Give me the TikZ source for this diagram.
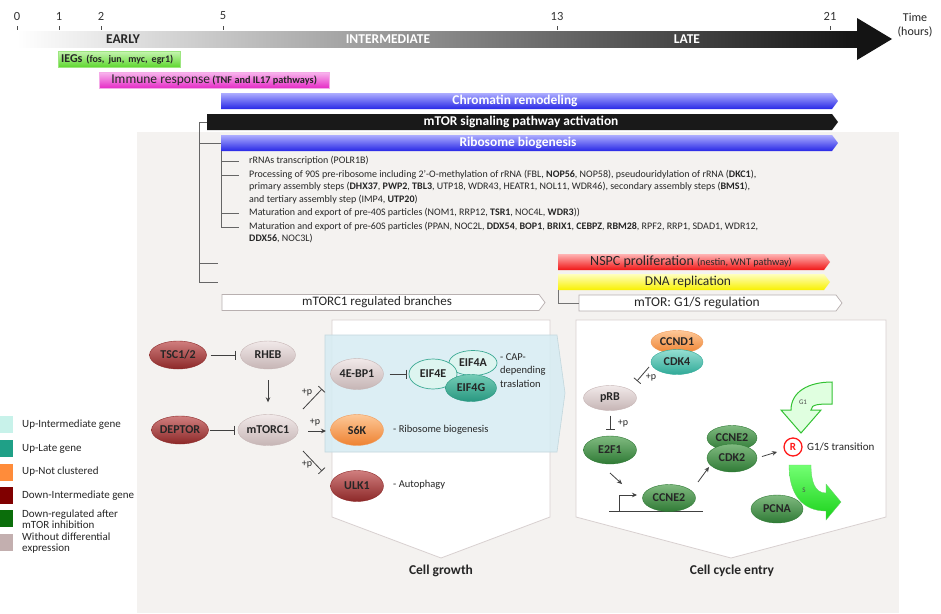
\documentclass[tikz,border=0pt]{standalone}
\usepackage{fontspec}
\setmainfont{Carlito}
\usetikzlibrary{shapes.geometric,arrows.meta}
\definecolor{panel}{HTML}{F4F2F0}
\definecolor{iegT}{HTML}{C4F4AE}\definecolor{iegB}{HTML}{5CD62C}
\definecolor{immT}{HTML}{F9B8EE}\definecolor{immB}{HTML}{E52CC6}
\definecolor{bluT}{HTML}{ADADFF}\definecolor{bluB}{HTML}{2828E6}
\definecolor{redT}{HTML}{FFB4B4}\definecolor{redB}{HTML}{F01616}
\definecolor{yelT}{HTML}{FFFFBE}\definecolor{yelB}{HTML}{F8F000}
\definecolor{boxgrey}{HTML}{B8B0B0}
\definecolor{pline}{HTML}{D8D0D0}
\definecolor{cyanbox}{HTML}{D6ECF3}
\definecolor{drT}{HTML}{D07E7E}\definecolor{drB}{HTML}{8C2828}
\definecolor{grT}{HTML}{F1E9E9}\definecolor{grB}{HTML}{C6B5B5}
\definecolor{orT}{HTML}{FDC898}\definecolor{orB}{HTML}{EE8231}
\definecolor{dgT}{HTML}{80BA80}\definecolor{dgB}{HTML}{2F7A35}
\definecolor{tlT}{HTML}{95DED2}\definecolor{tlB}{HTML}{30AA98}
\definecolor{egT}{HTML}{74CCB6}\definecolor{egB}{HTML}{289780}
\definecolor{lcy}{HTML}{DDF5F0}\definecolor{tealline}{HTML}{3AA993}
\newcommand\fsz[2]{\fontsize{#1}{#2}\selectfont}
% #1 path style, #2 x1, #3 x2 (body end), #4 y centre, #5 name, #6 text x, #7 node style, #8 text
\newcommand\pbar[8]{%
  \path[#1] (#2,#4-8) -- (#3,#4-8) -- (#3+6,#4) -- (#3,#4+8) -- (#2,#4+8) -- cycle;
  \coordinate (#5) at (#2,#4);
  \node[inner sep=0pt,#7] (#5txt) at (#6,#4) {#8};}
\tikzset{
  ov/.style={ellipse, inner sep=0pt, font=\bfseries\fsz{12}{14}, text=black!85, line width=0.4pt},
  dred/.style={ov, top color=drT, bottom color=drB, draw=drB},
  gry/.style={ov, top color=grT, bottom color=grB, draw=grB},
  org/.style={ov, top color=orT, bottom color=orB, draw=orB!80},
  dgrn/.style={ov, top color=dgT, bottom color=dgB, draw=dgB},
  tl/.style={ov, top color=tlT, bottom color=tlB, draw=tlB},
  lc/.style={ov, fill=lcy, draw=tealline, line width=0.7pt},
  tlg/.style={ov, top color=egT, bottom color=egB, draw=egB},
  inh/.style={draw=black!75, line width=0.8pt, -{Bar[width=9pt,line width=0.8pt]}},
  act/.style={draw=black!75, line width=0.8pt, -{Stealth[length=5pt,width=4.5pt]}},
  tree/.style={draw=black!60, line width=1pt},
  pp/.style={font=\fsz{10}{12}, inner sep=0pt, text=black!85},
  side/.style={font=\fsz{10.5}{13.5}, inner sep=0pt, anchor=west, text=black!85},
  sub/.style={font=\fsz{10}{12.8}, inner sep=0pt, text=black!85},
  legsq/.style={minimum width=13pt, minimum height=17pt, inner sep=0pt},
  legtx/.style={font=\fsz{11}{11}, inner sep=0pt, anchor=west, align=left, text=black!85},
  wbar/.style={fill=white, draw=boxgrey, line width=0.7pt},
  btxt/.style={white, font=\bfseries\fsz{13.4}{15}},
  ntxt/.style={text=black!85, font=\fsz{13.5}{15}},
  phase/.style={font=\bfseries\fsz{13.5}{15}, inner sep=0pt}
}
\begin{document}
\begin{tikzpicture}[x=1pt,y=-1pt]
\useasboundingbox (0,0) rectangle (941,613);
\fill[white] (0,0) rectangle (941,613);
\fill[panel] (137,132) rectangle (899,613);

% ---------- time axis ----------
\node[minimum width=840pt, minimum height=16pt, inner sep=0pt, left color=white,
      middle color=black!40, right color=black!92] (axis) at (437,39) {};
\fill[black!92] (857,18) -- (892,39) -- (857,60) -- cycle;
\foreach \x/\l in {17/0,59/1,101/2,223/5,557/13,830/21}{
  \draw[black!70, line width=0.8pt] (\x,26) -- (\x,30);
  \node[font=\fsz{12.5}{14}, text=black!80, inner sep=0pt] (tk\l) at (\x,16) {\l};}
\node[phase, text=black!85] (early) at (123,39) {EARLY};
\node[phase, white] (inter) at (388,39) {INTERMEDIATE};
\node[phase, white] (late) at (687,39) {LATE};
\node[font=\fsz{12}{14}, align=center, text=black!85] (time) at (915,25) {Time\\(hours)};

% ---------- early bars ----------
\node[anchor=west, minimum height=16pt, text width=116pt, inner xsep=3pt, inner ysep=0pt,
      top color=iegT, bottom color=iegB, draw=iegB!60!white, line width=0.3pt,
      align=left, font=\bfseries\fsz{12}{13}, text=black!85] (ieg) at (58,59.5)
      {IEGs {\fsz{10}{11}(fos, jun, myc, egr1)}};
\node[anchor=west, minimum width=230pt, minimum height=16pt, inner sep=0pt,
      top color=immT, bottom color=immB, draw=immB!40!white, line width=0.3pt,
      text=black!85] (imm) at (99,80)
      {{\fsz{13.5}{15}Immune response} {\bfseries\fsz{10.3}{11}(TNF and IL17 pathways)}};

\pbar{top color=bluT,bottom color=bluB}{221}{832}{101}{chrom}{515}{btxt}{Chromatin remodeling}
\pbar{fill=black!90}{207}{832}{122}{mtor}{521}{btxt}{mTOR signaling pathway activation}
\pbar{top color=bluT,bottom color=bluB}{221}{832}{143}{ribo}{518}{btxt}{Ribosome biogenesis}

% ---------- trees ----------
\draw[tree] (mtor) -| (199,282) -- (218,282);
\draw[tree] (199,143) -- (ribo);
\draw[tree] (199,263) -- (218,263);
\draw[tree] ([yshift=-8pt]ribo) |- (239,227);
\draw[tree] (221,161) -- (239,161);
\draw[tree] (221,175) -- (239,175);
\draw[tree] (221,213) -- (239,213);

\node[sub, anchor=west] (t1) at (249,161) {rRNAs transcription (POLR1B)};
\node[sub, anchor=north west, align=left] (t2) at (249,169.5) {Processing of 90S pre-ribosome including 2'-O-methylation of rRNA (FBL, \textbf{NOP56}, NOP58), pseudouridylation of rRNA (\textbf{DKC1}),\\primary assembly steps (\textbf{DHX37}, \textbf{PWP2}, \textbf{TBL3}, UTP18, WDR43, HEATR1, NOL11, WDR46), secondary assembly steps (\textbf{BMS1}),\\and tertiary assembly step (IMP4, \textbf{UTP20})};
\node[sub, anchor=west] (t3) at (249,213) {Maturation and export of pre-40S particles (NOM1, RRP12, \textbf{TSR1}, NOC4L, \textbf{WDR3}))};
\node[sub, anchor=north west, align=left] (t4) at (249,221.5) {Maturation and export of pre-60S particles (PPAN, NOC2L, \textbf{DDX54}, \textbf{BOP1}, \textbf{BRIX1}, \textbf{CEBPZ}, \textbf{RBM28}, RPF2, RRP1, SDAD1, WDR12,\\\textbf{DDX56}, NOC3L)};

% ---------- late bars ----------
\pbar{top color=redT,bottom color=redB}{558}{824}{262}{nspc}{691}{ntxt, font=\fsz{14}{15}}{NSPC proliferation {\fsz{10.2}{11}(nestin, WNT pathway)}}
\pbar{top color=yelT,bottom color=yelB}{558}{824}{282}{dna}{688}{ntxt}{DNA replication}
\pbar{wbar}{579}{836}{303}{gs}{697}{ntxt}{mTOR: G1/S regulation}
\pbar{wbar}{222}{539}{302.5}{br}{377}{ntxt, font=\fsz{13}{15}}{mTORC1 regulated branches}
\draw[draw=black!55, line width=1pt] ([yshift=-8pt]dna) |- (gs);

% ---------- panels ----------
\filldraw[fill=white, draw=pline, line width=0.8pt] (332,320) -- (550,320) -- (550,517) -- (441,558) -- (332,517) -- cycle;
\filldraw[fill=white, draw=pline, line width=0.8pt] (576,320) -- (886,320) -- (886,517) -- (731,558) -- (576,517) -- cycle;
\filldraw[fill=cyanbox, fill opacity=0.85, draw=cyanbox!85!black!60!cyanbox, line width=0.6pt] (325,335) -- (557,335) -- (565,393) -- (557,452) -- (325,452) -- cycle;
\node[font=\bfseries\fsz{13.5}{15}, text=black!85] (cg) at (441,571) {Cell growth};
\node[font=\bfseries\fsz{13.5}{15}, text=black!85] (cce) at (732,571) {Cell cycle entry};

% ---------- mTORC1 pathway ----------
\node[dred, minimum width=57pt, minimum height=28pt] (tsc) at (178,355) {TSC1/2};
\node[gry, minimum width=55pt, minimum height=28pt] (rheb) at (268,355) {RHEB};
\node[dred, minimum width=57pt, minimum height=28pt] (deptor) at (180,430) {DEPTOR};
\node[gry, minimum width=60pt, minimum height=31pt] (mtorc) at (268,430) {mTORC1};
\draw[inh, shorten <=4pt, shorten >=5pt] (tsc) -- (rheb);
\draw[inh, shorten <=1pt, shorten >=3pt] (deptor) -- (mtorc);
\draw[act, shorten <=11pt, shorten >=12pt] (rheb) -- (mtorc);
\coordinate (u1) at (303,409); \coordinate (u2) at (322,389);
\coordinate (m1) at (308,431); \coordinate (m2) at (326,431);
\coordinate (d1) at (303,451); \coordinate (d2) at (322,471);
\draw[inh] (u1) -- (u2);
\draw[act] (m1) -- (m2);
\draw[inh] (d1) -- (d2);
\node[pp] (p1) at (307,393) {+p};
\node[pp] (p2) at (315,423) {+p};
\node[pp] (p3) at (307,465) {+p};

\node[gry, minimum width=53pt, minimum height=31pt] (bp1) at (357,374) {4E-BP1};
\node[lc, minimum width=48pt, minimum height=25pt] (eif4a) at (473,363) {EIF4A};
\node[lc, minimum width=48pt, minimum height=30pt] (eif4e) at (433,374) {EIF4E};
\node[tlg, minimum width=51pt, minimum height=27pt] (eif4g) at (471,388) {EIF4G};
\draw[inh, shorten <=6pt, shorten >=2pt] (bp1) -- (eif4e);
\node[sub, font=\fsz{10.5}{13.5}, anchor=north west, align=left] (cap) at (500,353) {- CAP-\\depending\\traslation};
\node[org, minimum width=53pt, minimum height=31pt] (s6k) at (357,430) {S6K};
\node[side] (rbtx) at (393,430) {- Ribosome biogenesis};
\node[dred, minimum width=53pt, minimum height=31pt] (ulk1) at (357,486) {ULK1};
\node[side] (auto) at (393,485) {- Autophagy};

% ---------- cell cycle ----------
\node[org, minimum width=52pt, minimum height=23pt] (ccnd1) at (677,342) {CCND1};
\node[tl, minimum width=52pt, minimum height=25pt] (cdk4) at (677,362) {CDK4};
\coordinate (c1) at (649,367); \coordinate (c2) at (637,381);
\draw[inh] (c1) -- (c2);
\node[pp] (p4) at (651,378) {+p};
\node[gry, minimum width=53pt, minimum height=25pt] (prb) at (610,398) {pRB};
\node[dgrn, minimum width=53pt, minimum height=28pt] (e2f1) at (610,450) {E2F1};
\draw[inh, shorten <=5pt, shorten >=6pt] (prb) -- (e2f1);
\node[pp] (p5) at (623,424) {+p};
\coordinate (e1) at (610,473); \coordinate (e2) at (622,484);
\draw[act] (e1) -- (e2);
\coordinate (b0) at (609,511); \coordinate (b1) at (703,511);
\draw[black!75, line width=0.9pt] (b0) -- (b1);
\coordinate (pr0) at (619,511); \coordinate (pr1) at (637,495);
\draw[act] (pr0) |- (pr1);
\node[dgrn, minimum width=53pt, minimum height=27pt] (ccne2b) at (669,498) {CCNE2};
\node[dgrn, minimum width=50pt, minimum height=25pt] (ccne2t) at (732,438) {CCNE2};
\node[dgrn, minimum width=50pt, minimum height=28pt] (cdk2) at (732,458) {CDK2};
\coordinate (q1) at (698,482); \coordinate (q2) at (709,467);
\draw[act] (q1) -- (q2);
\node[circle, draw=red!90, line width=1.3pt, minimum size=18pt, inner sep=0pt, text=red!90,
      font=\bfseries\fsz{11}{13}] (R) at (793,447) {R};
\draw[act, shorten <=5pt, shorten >=7pt] (cdk2.east) -- (R);
\node[side, font=\fsz{11}{13}] (g1s) at (807,447) {G1/S transition};
% G1 arrow
\filldraw[fill=green!12!white, draw=green!70!black!80, line width=1pt]
  (832,382) .. controls (808,382) and (791,392) .. (791,410) -- (781,410) -- (801,433)
  -- (821,410) -- (811,410) .. controls (811,404) and (820,404) .. (832,404) -- cycle;
\node[font=\fsz{7}{8}, inner sep=0pt, text=black!70] (g1l) at (803,402) {G1};
% S arrow
\path[top color=green!55!white, bottom color=green!80!black!90, draw=green!70!black!60, line width=0.3pt]
  (789,465) .. controls (789,494) and (802,511) .. (826,511) -- (826,520) -- (841,502)
  -- (826,484) -- (826,493) .. controls (815,493) and (811,482) .. (811,465) -- cycle;
\node[font=\fsz{7}{8}, inner sep=0pt, text=black!70] (sl) at (804,490) {S};
\node[dgrn, minimum width=52pt, minimum height=28pt] (pcna) at (777,509) {PCNA};

% ---------- legend ----------
\node[legsq, fill={rgb,255:red,200;green,242;blue,234}] (l1) at (6.5,424.5) {};
\node[legsq, fill={rgb,255:red,31;green,160;blue,135}] (l2) at (6.5,448.5) {};
\node[legsq, fill={rgb,255:red,255;green,140;blue,58}] (l3) at (6.5,472) {};
\node[legsq, fill={rgb,255:red,128;green,0;blue,0}] (l4) at (6.5,495.5) {};
\node[legsq, fill={rgb,255:red,11;green,110;blue,11}] (l5) at (6.5,518) {};
\node[legsq, fill={rgb,255:red,195;green,175;blue,175}] (l6) at (6.5,542) {};
\node[legtx] (lt1) at (22,425) {Up-Intermediate gene};
\node[legtx] (lt2) at (22,449) {Up-Late gene};
\node[legtx] (lt3) at (22,472) {Up-Not clustered};
\node[legtx] (lt4) at (22,496) {Down-Intermediate gene};
\node[legtx] (lt5) at (22,519) {Down-regulated after\\mTOR inhibition};
\node[legtx] (lt6) at (22,543) {Without differential\\expression};
\end{tikzpicture}
\end{document}
